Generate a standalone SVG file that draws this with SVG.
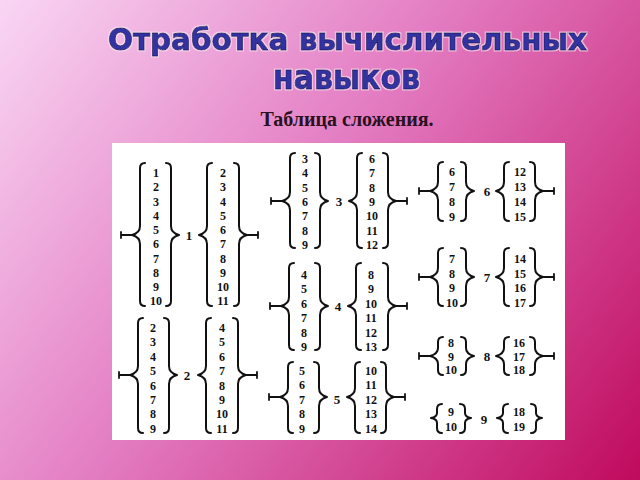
<svg xmlns="http://www.w3.org/2000/svg" width="640" height="480" viewBox="0 0 640 480">
<defs>
<linearGradient id="bg" gradientUnits="userSpaceOnUse" x1="0" y1="0" x2="640" y2="480">
<stop offset="0" stop-color="#f9d6f4"/>
<stop offset="0.45" stop-color="#e37cc2"/>
<stop offset="1" stop-color="#c00a5e"/>
</linearGradient>
<filter id="halo" x="-5%" y="-20%" width="110%" height="140%">
<feMorphology in="SourceAlpha" operator="dilate" radius="1.4" result="d"/>
<feFlood flood-color="#f6e6f4" flood-opacity="0.7"/>
<feComposite in2="d" operator="in" result="h"/>
<feMerge><feMergeNode in="h"/><feMergeNode in="SourceGraphic"/></feMerge>
</filter>
</defs>
<style>
.br{fill:none;stroke:#111;stroke-width:2;stroke-linecap:round;stroke-linejoin:round}
.tk{fill:none;stroke:#111;stroke-width:1.8;stroke-linecap:round}
.n{font-family:"Liberation Serif","DejaVu Serif",serif;font-size:12px;font-weight:bold;text-anchor:middle;dominant-baseline:central;fill:#111}
.lb{font-family:"Liberation Serif","DejaVu Serif",serif;font-size:13px;font-weight:bold;text-anchor:middle;dominant-baseline:central;fill:#111}
.title{font-family:"DejaVu Sans","Liberation Sans",sans-serif;font-weight:bold;fill:#3232a2;stroke:#1c1c6c;stroke-width:0.9}
</style>
<rect width="640" height="480" fill="url(#bg)"/>
<g id="title" filter="url(#halo)">
<text class="title" x="108" y="50" font-size="31" textLength="479" lengthAdjust="spacingAndGlyphs">Отработка вычислительных</text>
<text class="title" x="273" y="89" font-size="34" textLength="147" lengthAdjust="spacingAndGlyphs">навыков</text>
</g>
<g id="subtitle">
<text x="347" y="126" text-anchor="middle" font-family="Liberation Serif, serif" font-weight="bold" font-size="20" fill="#2a1020">Таблица сложения.</text>
</g>
<rect id="table-panel" x="112" y="143" width="453" height="297" fill="#ffffff"/>

<g id="sum-1">
<path class="br" d="M145 163 Q140 163 140 168 V226 Q140 233 132 235 Q140 237 140 244 V301 Q140 306 145 306"/>
<path class="br" d="M166 163 Q171 163 171 168 V226 Q171 233 179 235 Q171 237 171 244 V301 Q171 306 166 306"/>
<path class="br" d="M212 163 Q207 163 207 168 V226 Q207 233 199 235 Q207 237 207 244 V301 Q207 306 212 306"/>
<path class="br" d="M234 163 Q239 163 239 168 V226 Q239 233 247 235 Q239 237 239 244 V301 Q239 306 234 306"/>
<text class="n" x="156" y="173">1</text><text class="n" x="156" y="187">2</text><text class="n" x="156" y="202">3</text><text class="n" x="156" y="216">4</text><text class="n" x="156" y="230">5</text><text class="n" x="156" y="244">6</text><text class="n" x="156" y="259">7</text><text class="n" x="156" y="273">8</text><text class="n" x="156" y="287">9</text><text class="n" x="156" y="301">10</text>
<text class="n" x="223" y="173">2</text><text class="n" x="223" y="187">3</text><text class="n" x="223" y="202">4</text><text class="n" x="223" y="216">5</text><text class="n" x="223" y="230">6</text><text class="n" x="223" y="244">7</text><text class="n" x="223" y="259">8</text><text class="n" x="223" y="273">9</text><text class="n" x="223" y="287">10</text><text class="n" x="223" y="301">11</text>
<text class="lb" x="189" y="235">1</text>
</g>

<g id="sum-2">
<path class="br" d="M143 318 Q138 318 138 323 V366 Q138 373 130 375 Q138 377 138 384 V428 Q138 433 143 433"/>
<path class="br" d="M164 318 Q169 318 169 323 V366 Q169 373 177 375 Q169 377 169 384 V428 Q169 433 164 433"/>
<path class="br" d="M211 318 Q206 318 206 323 V366 Q206 373 198 375 Q206 377 206 384 V428 Q206 433 211 433"/>
<path class="br" d="M233 318 Q238 318 238 323 V366 Q238 373 246 375 Q238 377 238 384 V428 Q238 433 233 433"/>
<text class="n" x="153" y="328">2</text><text class="n" x="153" y="342">3</text><text class="n" x="153" y="357">4</text><text class="n" x="153" y="371">5</text><text class="n" x="153" y="386">6</text><text class="n" x="153" y="400">7</text><text class="n" x="153" y="414">8</text><text class="n" x="153" y="429">9</text>
<text class="n" x="222" y="328">4</text><text class="n" x="222" y="342">5</text><text class="n" x="222" y="357">6</text><text class="n" x="222" y="371">7</text><text class="n" x="222" y="386">8</text><text class="n" x="222" y="400">9</text><text class="n" x="222" y="414">10</text><text class="n" x="222" y="429">11</text>
<text class="lb" x="187" y="375">2</text>
</g>

<g id="sum-3">
<path class="br" d="M295 153 Q290 153 290 158 V192 Q290 199 282 201 Q290 203 290 210 V243 Q290 248 295 248"/>
<path class="br" d="M315 153 Q320 153 320 158 V192 Q320 199 328 201 Q320 203 320 210 V243 Q320 248 315 248"/>
<path class="br" d="M362 153 Q357 153 357 158 V192 Q357 199 349 201 Q357 203 357 210 V243 Q357 248 362 248"/>
<path class="br" d="M383 153 Q388 153 388 158 V192 Q388 199 396 201 Q388 203 388 210 V243 Q388 248 383 248"/>
<text class="n" x="305" y="159">3</text><text class="n" x="305" y="173">4</text><text class="n" x="305" y="188">5</text><text class="n" x="305" y="202">6</text><text class="n" x="305" y="216">7</text><text class="n" x="305" y="231">8</text><text class="n" x="305" y="245">9</text>
<text class="n" x="372" y="159">6</text><text class="n" x="372" y="173">7</text><text class="n" x="372" y="188">8</text><text class="n" x="372" y="202">9</text><text class="n" x="372" y="216">10</text><text class="n" x="372" y="231">11</text><text class="n" x="372" y="245">12</text>
<text class="lb" x="339" y="201">3</text>
</g>

<g id="sum-4">
<path class="br" d="M294 263 Q289 263 289 268 V297 Q289 304 281 306 Q289 308 289 315 V345 Q289 350 294 350"/>
<path class="br" d="M315 263 Q320 263 320 268 V297 Q320 304 328 306 Q320 308 320 315 V345 Q320 350 315 350"/>
<path class="br" d="M361 263 Q356 263 356 268 V297 Q356 304 348 306 Q356 308 356 315 V345 Q356 350 361 350"/>
<path class="br" d="M383 263 Q388 263 388 268 V297 Q388 304 396 306 Q388 308 388 315 V345 Q388 350 383 350"/>
<text class="n" x="304" y="275">4</text><text class="n" x="304" y="289">5</text><text class="n" x="304" y="304">6</text><text class="n" x="304" y="318">7</text><text class="n" x="304" y="333">8</text><text class="n" x="304" y="347">9</text>
<text class="n" x="371" y="275">8</text><text class="n" x="371" y="289">9</text><text class="n" x="371" y="304">10</text><text class="n" x="371" y="318">11</text><text class="n" x="371" y="333">12</text><text class="n" x="371" y="347">13</text>
<text class="lb" x="338" y="306">4</text>
</g>

<g id="sum-5">
<path class="br" d="M293 362 Q288 362 288 367 V388 Q288 395 280 397 Q288 399 288 406 V428 Q288 433 293 433"/>
<path class="br" d="M314 362 Q319 362 319 367 V388 Q319 395 327 397 Q319 399 319 406 V428 Q319 433 314 433"/>
<path class="br" d="M360 362 Q355 362 355 367 V388 Q355 395 347 397 Q355 399 355 406 V428 Q355 433 360 433"/>
<path class="br" d="M381 362 Q386 362 386 367 V388 Q386 395 394 397 Q386 399 386 406 V428 Q386 433 381 433"/>
<text class="n" x="302" y="371">5</text><text class="n" x="302" y="385">6</text><text class="n" x="302" y="400">7</text><text class="n" x="302" y="414">8</text><text class="n" x="302" y="429">9</text>
<text class="n" x="371" y="371">10</text><text class="n" x="371" y="385">11</text><text class="n" x="371" y="400">12</text><text class="n" x="371" y="414">13</text><text class="n" x="371" y="429">14</text>
<text class="lb" x="337" y="399">5</text>
</g>

<g id="sum-6">
<path class="br" d="M443 162 Q438 162 438 167 V182 Q438 189 430 191 Q438 193 438 200 V216 Q438 221 443 221"/>
<path class="br" d="M461 162 Q466 162 466 167 V182 Q466 189 474 191 Q466 193 466 200 V216 Q466 221 461 221"/>
<path class="br" d="M509 162 Q504 162 504 167 V182 Q504 189 496 191 Q504 193 504 200 V216 Q504 221 509 221"/>
<path class="br" d="M530 162 Q535 162 535 167 V182 Q535 189 543 191 Q535 193 535 200 V216 Q535 221 530 221"/>
<text class="n" x="452" y="172">6</text><text class="n" x="452" y="187">7</text><text class="n" x="452" y="202">8</text><text class="n" x="452" y="217">9</text>
<text class="n" x="520" y="172">12</text><text class="n" x="520" y="187">13</text><text class="n" x="520" y="202">14</text><text class="n" x="520" y="217">15</text>
<text class="lb" x="487" y="191">6</text>
</g>

<g id="sum-7">
<path class="br" d="M443 248 Q438 248 438 253 V268 Q438 275 430 277 Q438 279 438 286 V301 Q438 306 443 306"/>
<path class="br" d="M461 248 Q466 248 466 253 V268 Q466 275 474 277 Q466 279 466 286 V301 Q466 306 461 306"/>
<path class="br" d="M509 248 Q504 248 504 253 V268 Q504 275 496 277 Q504 279 504 286 V301 Q504 306 509 306"/>
<path class="br" d="M530 248 Q535 248 535 253 V268 Q535 275 543 277 Q535 279 535 286 V301 Q535 306 530 306"/>
<text class="n" x="452" y="259">7</text><text class="n" x="452" y="274">8</text><text class="n" x="452" y="288">9</text><text class="n" x="452" y="303">10</text>
<text class="n" x="520" y="259">14</text><text class="n" x="520" y="274">15</text><text class="n" x="520" y="288">16</text><text class="n" x="520" y="303">17</text>
<text class="lb" x="487" y="277">7</text>
</g>

<g id="sum-8">
<path class="br" d="M443 337 Q438 337 438 342 V348 Q438 354 430 356 Q438 358 438 364 V370 Q438 375 443 375"/>
<path class="br" d="M461 337 Q466 337 466 342 V348 Q466 354 474 356 Q466 358 466 364 V370 Q466 375 461 375"/>
<path class="br" d="M509 337 Q504 337 504 342 V348 Q504 354 496 356 Q504 358 504 364 V370 Q504 375 509 375"/>
<path class="br" d="M530 337 Q535 337 535 342 V348 Q535 354 543 356 Q535 358 535 364 V370 Q535 375 530 375"/>
<text class="n" x="451" y="343">8</text><text class="n" x="451" y="357">9</text><text class="n" x="451" y="370">10</text>
<text class="n" x="519" y="343">16</text><text class="n" x="519" y="357">17</text><text class="n" x="519" y="370">18</text>
<text class="lb" x="487" y="356">8</text>
</g>

<g id="sum-9">
<path class="br" d="M442 404 Q437 404 437 409 V413 Q437 417 431 418 Q437 419 437 423 V428 Q437 433 442 433"/>
<path class="br" d="M460 404 Q465 404 465 409 V413 Q465 417 471 418 Q465 419 465 423 V428 Q465 433 460 433"/>
<path class="br" d="M508 404 Q503 404 503 409 V413 Q503 417 497 418 Q503 419 503 423 V428 Q503 433 508 433"/>
<path class="br" d="M531 404 Q536 404 536 409 V413 Q536 417 542 418 Q536 419 536 423 V428 Q536 433 531 433"/>
<text class="n" x="451" y="412">9</text><text class="n" x="451" y="427">10</text>
<text class="n" x="519" y="412">18</text><text class="n" x="519" y="427">19</text>
<text class="lb" x="484" y="419">9</text>
</g>

<g id="connectors">
<path class="tk" d="M121 235 H132 M121 232 V238 M247 235 H258 M258 232 V238"/>
<path class="tk" d="M119 375 H130 M119 372 V378 M246 375 H257 M257 372 V378"/>
<path class="tk" d="M271 201 H282 M271 198 V204 M396 201 H407 M407 198 V204"/>
<path class="tk" d="M270 306 H281 M270 303 V309 M396 306 H407 M407 303 V309"/>
<path class="tk" d="M269 397 H280 M269 394 V400 M394 397 H405 M405 394 V400"/>
<path class="tk" d="M419 191 H430 M419 188 V194 M543 191 H554 M554 188 V194"/>
<path class="tk" d="M419 277 H430 M419 274 V280 M543 277 H554 M554 274 V280"/>
<path class="tk" d="M419 356 H430 M419 353 V359 M543 356 H554 M554 353 V359"/>
</g>
</svg>
